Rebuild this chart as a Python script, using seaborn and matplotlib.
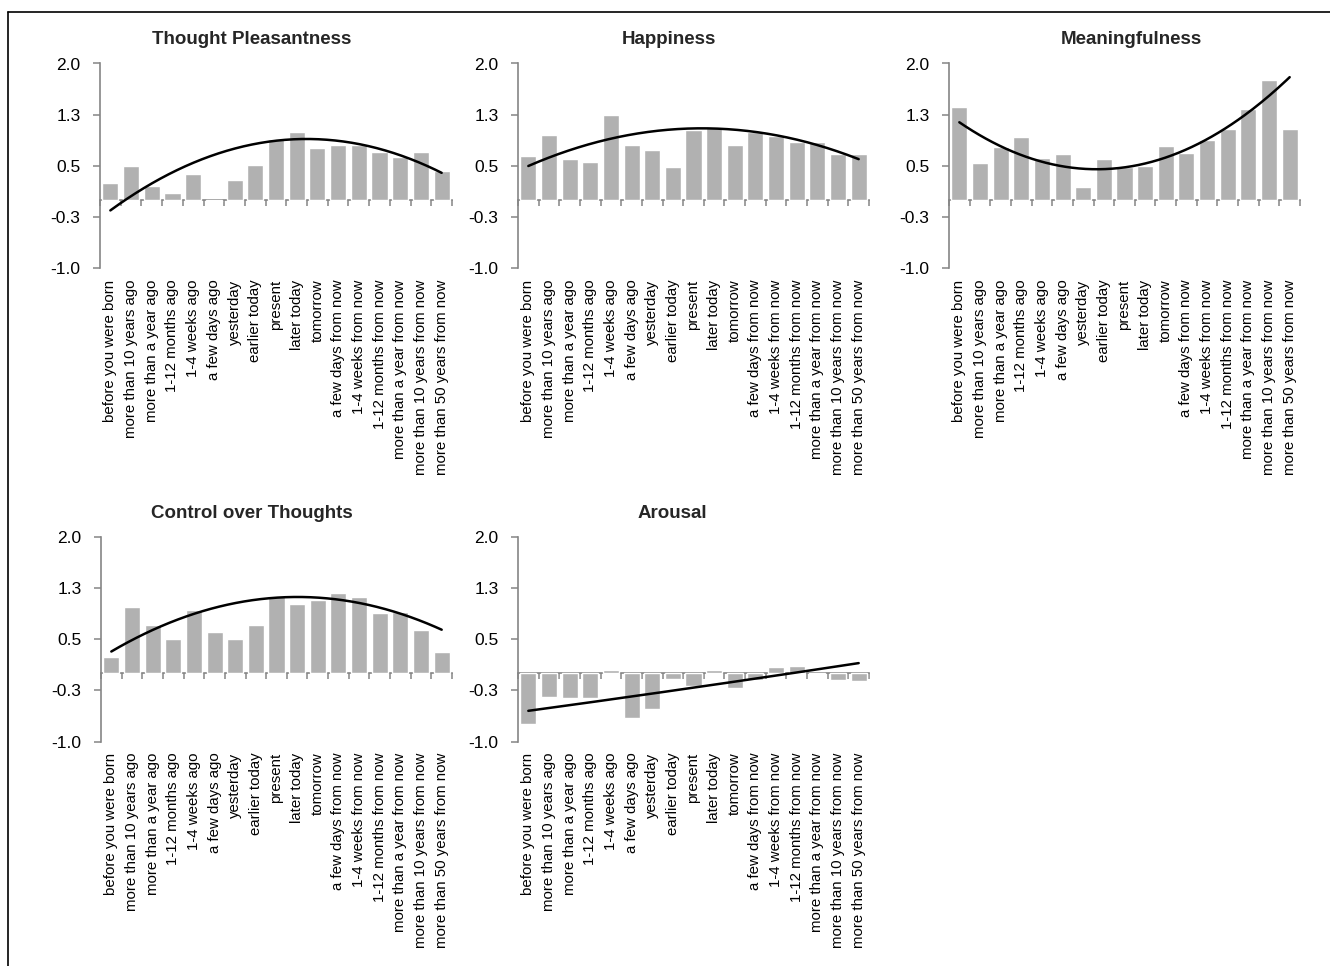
import numpy as np
import pandas as pd
import matplotlib
matplotlib.use("Agg")
import matplotlib.pyplot as plt
from matplotlib.lines import Line2D
import seaborn as sns

# Time-perspective categories (x axis of every panel)
categories = [
    "before you were born", "more than 10 years ago", "more than a year ago",
    "1-12 months ago", "1-4 weeks ago", "a few days ago", "yesterday",
    "earlier today", "present", "later today", "tomorrow",
    "a few days from now", "1-4 weeks from now", "1-12 months from now",
    "more than a year from now", "more than 10 years from now",
    "more than 50 years from now",
]

# Mean ratings per category for each measure
pleasantness = [0.25, 0.50, 0.21, 0.10, 0.385, -0.015, 0.30, 0.51, 0.89,
                1.00, 0.77, 0.80, 0.80, 0.70, 0.63, 0.70, 0.43]
happiness = [0.65, 0.96, 0.60, 0.56, 1.24, 0.80, 0.73, 0.48, 1.03,
             1.07, 0.80, 1.00, 0.94, 0.85, 0.85, 0.67, 0.68]
meaningfulness = [1.36, 0.54, 0.78, 0.93, 0.61, 0.67, 0.195, 0.60, 0.49,
                  0.50, 0.79, 0.69, 0.88, 1.04, 1.34, 1.76, 1.04]
control = [0.235, 0.97, 0.71, 0.51, 0.93, 0.60, 0.50, 0.71, 1.13,
           1.01, 1.07, 1.18, 1.12, 0.88, 0.90, 0.63, 0.31]
arousal = [-0.745, -0.34, -0.36, -0.36, 0.045, -0.66, -0.52, -0.08, -0.18,
           0.045, -0.21, -0.10, 0.10, 0.11, -0.01, -0.10, -0.11]

# Quadratic trend of each measure, given at the first, middle and last category
trend_at = [0, 8, 16]
pleasantness_trend = [-0.15, 0.87, 0.40]
happiness_trend = [0.50, 1.05, 0.60]
meaningfulness_trend = [1.14, 0.48, 1.80]
control_trend = [0.32, 1.11, 0.64]
arousal_trend = [-0.55, -0.21, 0.15]

panel_titles = ["Thought Pleasantness", "Happiness", "Meaningfulness",
                "Control over Thoughts", "Arousal"]
panel_values = [pleasantness, happiness, meaningfulness, control, arousal]
panel_trends = [pleasantness_trend, happiness_trend, meaningfulness_trend,
                control_trend, arousal_trend]

y_ticks = [-1.0, -0.25, 0.5, 1.25, 2.0]
y_tick_labels = ["-1.0", "-0.3", "0.5", "1.3", "2.0"]

sns.set_theme(style="white")
plt.rcParams["font.family"] = ["Liberation Sans", "DejaVu Sans"]

BAR = "#b1b1b1"
AXIS = "#858585"

W, H = 1330, 966
fig = plt.figure(figsize=(W / 100, H / 100), dpi=100)

# axes rectangles in pixels: (left, top, width, height)
rects = [(100, 63.5, 352, 205), (518, 63.5, 351, 205), (949, 63.5, 351, 205),
         (101, 537, 351, 204.5), (518, 537, 351, 204.5)]
title_x = [0.43, 0.43, 0.52, 0.43, 0.44]

for (l, t, w, h), title, vals, trend, tx in zip(rects, panel_titles, panel_values,
                                               panel_trends, title_x):
    ax = fig.add_axes([l / W, 1 - (t + h) / H, w / W, h / H])
    df = pd.DataFrame({"when": categories, "value": vals})
    sns.barplot(data=df, x="when", y="value", color=BAR, saturation=1,
                width=0.78, ax=ax, zorder=2)

    # second-order trend line through the given trend values
    coef = np.polyfit(trend_at, trend, 2)
    xs = np.linspace(0, len(vals) - 1, 200)
    sns.lineplot(x=xs, y=np.polyval(coef, xs), color="black", lw=1.8,
                 ax=ax, zorder=4)

    xi = np.arange(len(vals))
    ax.set_xlim(-0.5, len(vals) - 0.5)
    ax.set_ylim(-1.0, 2.0)
    ax.set_yticks(y_ticks)
    ax.set_yticklabels(y_tick_labels)
    ax.set_xlabel("")
    ax.set_ylabel("")
    ax.set_xticks(xi)
    ax.set_xticklabels(categories, rotation=90, fontsize=10.8, color="black")
    ax.tick_params(axis="x", length=0, pad=8)
    ax.tick_params(axis="y", length=5, width=1.1, color=AXIS, pad=9,
                   labelsize=12.5, labelcolor="black", left=True)
    for s in ("top", "right", "bottom"):
        ax.spines[s].set_visible(False)
    ax.spines["left"].set_color(AXIS)
    ax.spines["left"].set_linewidth(1.2)
    ax.set_title(title, x=tx, fontsize=13.5, fontweight="bold", pad=14)

    # category axis drawn along the zero line, ticks between bars
    zax = ax.secondary_xaxis(1 / 3)
    zax.set_xticks(np.arange(len(vals) + 1) - 0.5)
    zax.set_xticklabels([])
    zax.tick_params(axis="x", direction="out", length=4, width=1.1,
                    color=AXIS)
    zax.spines["bottom"].set_color(AXIS)
    zax.spines["bottom"].set_linewidth(1.2)
    zax.spines["bottom"].set_zorder(3)

# outer frame of the figure
fig.add_artist(Line2D([8 / W, 1.0], [1 - 12 / H, 1 - 12 / H],
                      color="black", lw=1.2, transform=fig.transFigure))
fig.add_artist(Line2D([8 / W, 8 / W], [0.0, 1 - 12 / H],
                      color="black", lw=1.2, transform=fig.transFigure))

fig.savefig("out.png", dpi=100, facecolor="white")
